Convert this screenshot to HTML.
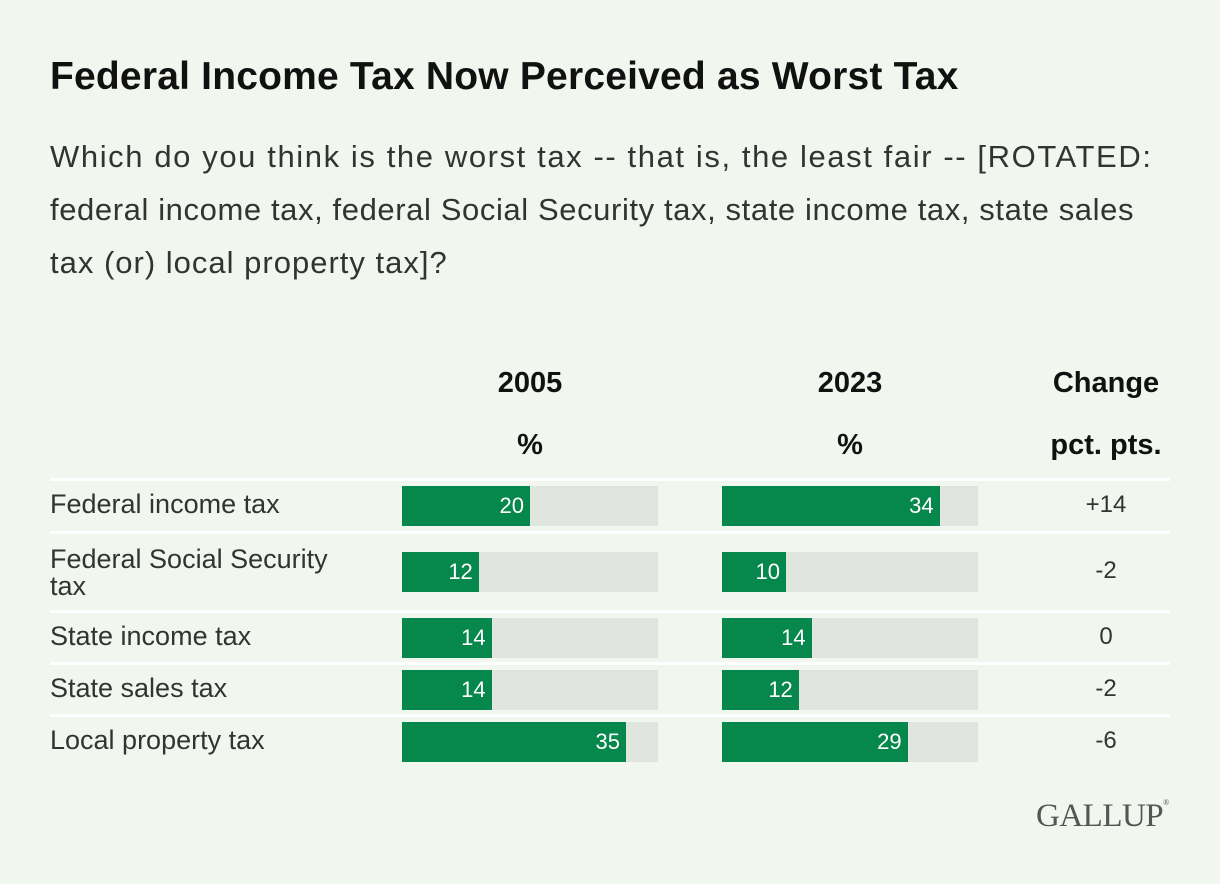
<!DOCTYPE html>
<html><head><meta charset="utf-8">
<style>
body{margin:0;width:1220px;height:884px;background:#f1f6ef;font-family:"Liberation Sans",sans-serif;position:relative;overflow:hidden;color:#111}
.a{position:absolute}
h1{position:absolute;left:50px;top:55px;margin:0;font-size:39px;font-weight:bold;color:#111;letter-spacing:0.2px;white-space:nowrap}
.sub{left:50px;top:130px;width:1160px;font-size:31px;line-height:53px;color:#333;white-space:nowrap}
.sub span{display:block}
.hd{font-size:29px;font-weight:bold;text-align:center;width:200px}
.sep{position:absolute;left:50px;width:1120px;height:3px;background:#fff}
.lab{position:absolute;left:50px;font-size:27px;color:#333;line-height:27px}
.track{position:absolute;height:40px;background:#e0e5df}
.bar{position:absolute;height:40px;background:#06874c}
.val{position:absolute;font-size:22px;color:#fff;text-align:right;line-height:40px}
.chg{position:absolute;font-size:24px;color:#333;width:120px;text-align:center}
</style></head><body>
<h1>Federal Income Tax Now Perceived as Worst Tax</h1>
<div class="a sub"><span style="letter-spacing:1.6px">Which do you think is the worst tax -- that is, the least fair -- [ROTATED:</span><span style="letter-spacing:0.6px">federal income tax, federal Social Security tax, state income tax, state sales</span><span style="letter-spacing:1px">tax (or) local property tax]?</span></div>
<div class="a hd" style="left:430px;top:367px">2005</div>
<div class="a hd" style="left:430px;top:429px">%</div>
<div class="a hd" style="left:750px;top:367px">2023</div>
<div class="a hd" style="left:750px;top:429px">%</div>
<div class="a hd" style="left:1006px;top:367px">Change</div>
<div class="a hd" style="left:1006px;top:429px">pct. pts.</div>
<div class="a" style="left:1036px;top:798px;font-family:'Liberation Serif',serif;font-size:33px;color:#555;letter-spacing:-0.5px">GALLUP<span style="font-size:8px;vertical-align:top">®</span></div>
<div id="chart"></div>
<script>
const categories=["Federal income tax","Federal Social Security tax","State income tax","State sales tax","Local property tax"];
const values2005=[20,12,14,14,35];
const values2023=[34,10,14,12,29];
const changes=["+14","-2","0","-2","-6"];
const barTops=[486,552,618,670,722];
const sepTops=[478,531,610,662,714];
const scaleMax=40, trackW=256;
const x=v=>v/scaleMax*trackW;
const c=document.getElementById('chart');
function mk(cls,style,txt){const e=document.createElement('div');e.className=cls;Object.assign(e.style,style);if(txt!=null)e.textContent=txt;c.appendChild(e);return e;}
sepTops.forEach((t,i)=>{const e=mk('sep',{top:t+'px'});

});
categories.forEach((cat,i)=>{
 const t=barTops[i];
 const two=cat.length>22;
 const l=mk('lab',{top:(two?t-6:t+5)+'px',width:two?'300px':'340px'},cat);
 
 
 [[402,values2005[i],'2005'],[722,values2023[i],'2023']].forEach(([x0,v,yr])=>{
  const tr=mk('track',{left:x0+'px',top:t+'px',width:trackW+'px'});
  
  
  const b=mk('bar',{left:x0+'px',top:t+'px',width:x(v)+'px'});
  
  
  const vl=mk('val',{left:x0+'px',top:t+'px',width:(x(v)-6)+'px'},v);
  
  
 });
 const ch=mk('chg',{left:'1046px',top:(t+5)+'px'},changes[i]);
 
 
});
</script>
</body></html>
